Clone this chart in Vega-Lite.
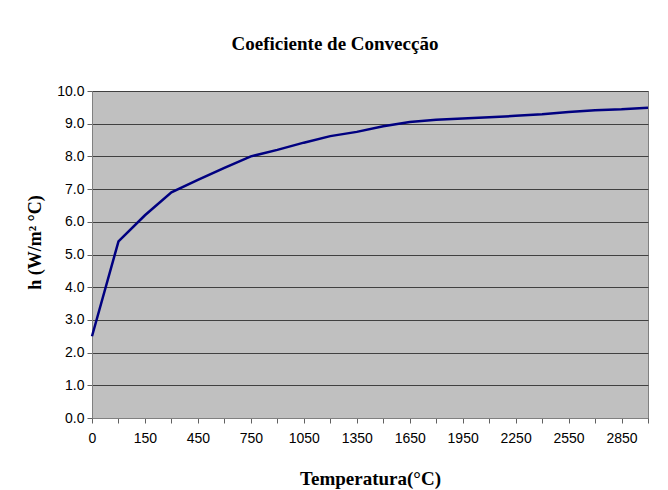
{
  "$schema": "https://vega.github.io/schema/vega-lite/v6.json",
  "width": 556,
  "height": 327,
  "autosize": {"type": "none"},
  "padding": {"left": 92, "top": 91, "right": 20, "bottom": 72},
  "background": "white",
  "title": {
    "text": "Coeficiente de Convecção",
    "font": "Liberation Serif",
    "fontSize": 19,
    "fontWeight": "bold",
    "color": "black",
    "anchor": "middle",
    "dx": -35,
    "offset": 30
  },
  "data": {
    "values": [
      {"T": 0, "h": 2.5},
      {"T": 75, "h": 5.4},
      {"T": 150, "h": 6.2},
      {"T": 300, "h": 6.9},
      {"T": 450, "h": 7.28},
      {"T": 600, "h": 7.65},
      {"T": 750, "h": 8.0},
      {"T": 900, "h": 8.2},
      {"T": 1050, "h": 8.42},
      {"T": 1200, "h": 8.62},
      {"T": 1350, "h": 8.75},
      {"T": 1500, "h": 8.92},
      {"T": 1650, "h": 9.05},
      {"T": 1800, "h": 9.12},
      {"T": 1950, "h": 9.16},
      {"T": 2100, "h": 9.2},
      {"T": 2250, "h": 9.24},
      {"T": 2400, "h": 9.29},
      {"T": 2550, "h": 9.36},
      {"T": 2700, "h": 9.41},
      {"T": 2850, "h": 9.44},
      {"T": 3000, "h": 9.49}
    ]
  },
  "mark": {"type": "line", "color": "#000080", "strokeWidth": 2.5},
  "encoding": {
    "x": {
      "field": "T",
      "type": "ordinal",
      "sort": null,
      "scale": {"type": "point", "padding": 0},
      "axis": {
        "title": "Temperatura(°C)",
        "titleFont": "Liberation Serif",
        "titleFontSize": 19,
        "titleFontWeight": "bold",
        "titleColor": "black",
        "titlePadding": 24,
        "labelAngle": 0,
        "labelFont": "Liberation Sans",
        "labelFontSize": 14,
        "labelColor": "black",
        "labelPadding": 8,
        "labelExpr": "(toNumber(datum.value) == 0 || (toNumber(datum.value) - 150) % 300 == 0) ? datum.label : ''",
        "labelOverlap": false,
        "domainColor": "#808080",
        "tickColor": "#606060",
        "tickSize": 5,
        "grid": false
      }
    },
    "y": {
      "field": "h",
      "type": "quantitative",
      "scale": {"domain": [0, 10], "nice": false},
      "axis": {
        "title": "h (W/m² °C)",
        "titleFont": "Liberation Serif",
        "titleFontSize": 18,
        "titleFontWeight": "bold",
        "titleColor": "black",
        "titlePadding": 12,
        "titleY": 151,
        "values": [0, 1, 2, 3, 4, 5, 6, 7, 8, 9, 10],
        "format": ".1f",
        "labelFont": "Liberation Sans",
        "labelFontSize": 14,
        "labelColor": "black",
        "labelPadding": 3,
        "domainColor": "#808080",
        "tickColor": "#606060",
        "tickSize": 5,
        "grid": true,
        "gridColor": "#404040",
        "gridOpacity": 1,
        "gridWidth": 1
      }
    }
  },
  "config": {
    "view": {"fill": "#C0C0C0", "stroke": "#808080", "strokeWidth": 1}
  }
}
